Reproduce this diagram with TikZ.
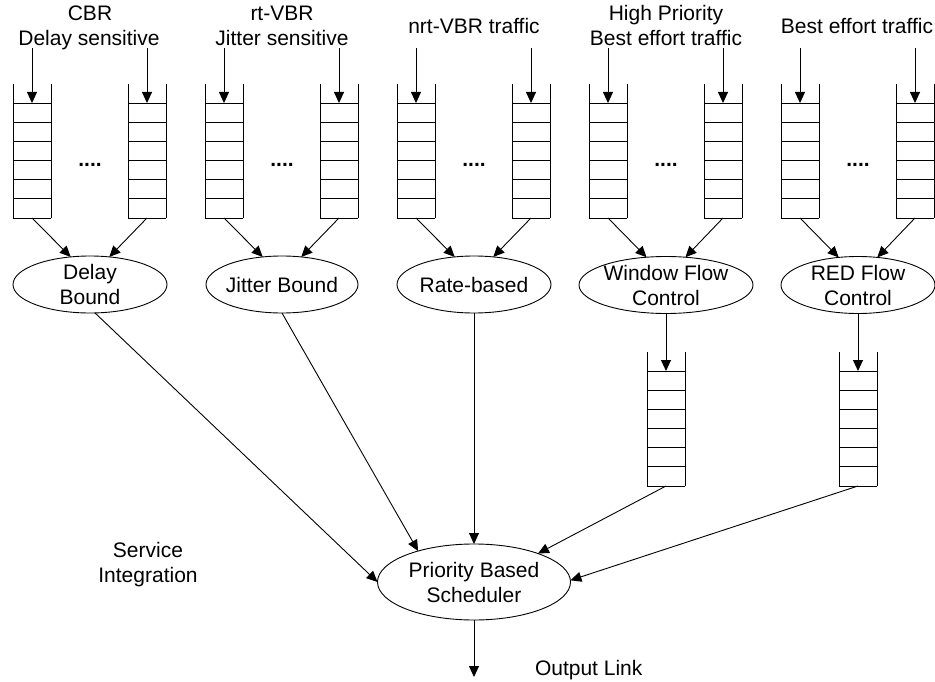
\documentclass[tikz,border=0pt]{standalone}
\usepackage{fontspec}
\setmainfont{Liberation Sans}
\usetikzlibrary{arrows.meta,shapes.geometric,calc}
\tikzset{
  line/.style={line width=0.9pt, draw=black},
  arr/.style={line, -{Triangle[length=11pt,width=10pt]}},
  ell/.style={draw, line width=0.9pt, ellipse, minimum height=57pt},
  lbl/.style={anchor=base},
  queue/.pic={
    \draw[line] (0,0) -- (0,134) (38,0) -- (38,134);
    \foreach \k in {0,...,6} \draw[line] (0,{19+\k*19.1667}) -- (38,{19+\k*19.1667});
    \coordinate (-in) at (19,19);
    \coordinate (-out) at (19,134);
    \coordinate (-src) at (19,-36);
  }
}
\begin{document}
\begin{tikzpicture}[x=1pt,y=-1pt,
  every node/.style={inner sep=0pt, outer sep=0pt, font=\fontsize{21}{25}\selectfont}]
\fill[white] (0,0) rectangle (935,682);
\useasboundingbox (0,0) rectangle (935,682);

% top queues, input arrows, dots
\foreach \g in {0,...,4}{
  \pic (qL\g) at ({13+192*\g},84) {queue};
  \pic (qR\g) at ({128+192*\g},84) {queue};
  \draw[arr] (qL\g-src) -- (qL\g-in);
  \draw[arr] (qR\g-src) -- (qR\g-in);
  \node[anchor=base, font=\bfseries\fontsize{21}{25}\selectfont] (d\g) at ({90+192*\g},167) {....};
}

% top labels
\node[lbl] (l0a) at (90,21) {CBR};
\node[lbl] (l0b) at (89,46) {Delay sensitive};
\node[lbl] (l1a) at (282,21) {rt-VBR};
\node[lbl] (l1b) at (282,46) {Jitter sensitive};
\node[lbl] (l2) at (474,34) {nrt-VBR traffic};
\node[lbl] (l3a) at (666,21) {High Priority};
\node[lbl] (l3b) at (666,46) {Best effort traffic};
\node[lbl] (l4) at (857,34) {Best effort traffic};

% ellipses
\node[ell, minimum width=154pt] (e0) at (90,284.5) {};
\node[ell, minimum width=152pt] (e1) at (282,284.5) {};
\node[ell, minimum width=154pt] (e2) at (474,284.5) {};
\node[ell, minimum width=174pt] (e3) at (666,285) {};
\node[ell, minimum width=154pt] (e4) at (858,285) {};
\node[align=center] (t0) at (e0) {Delay\\Bound};
\node (t1) at (e1) {Jitter Bound};
\node (t2) at (e2) {Rate-based};
\node[align=center] (t3) at (e3) {Window Flow\\Control};
\node[align=center] (t4) at (e4) {RED Flow\\Control};

\foreach \g in {0,...,4}{
  \draw[arr] (qL\g-out) -- (e\g.125);
  \draw[arr] (qR\g-out) -- (e\g.55);
}

% lower queues
\pic (qW) at (647,352) {queue};
\pic (qE) at (839,352) {queue};
\draw[arr] (e3.south) -- (qW-in);
\draw[arr] (e4.south) -- (qE-in);

% scheduler
\node[ell, minimum width=193pt, minimum height=76pt] (ps) at (474,582) {};
\node[align=center] (pst) at (ps) {Priority Based\\Scheduler};

\draw[arr] (e0.-80) -- (ps.west);
\draw[arr] (e1.south) -- (ps.151);
\draw[arr] (e2.south) -- (ps.north);
\draw[arr] (qW-out) -- (ps.24);
\draw[arr] (qE-out) -- (ps.1);

\coordinate (outend) at (474,677);
\draw[arr] (ps.south) -- (outend);

% side labels
\node[lbl] (s1) at (148,557) {Service};
\node[lbl] (s2) at (148,582) {Integration};
\node[anchor=base west] (ol) at (535,675) {Output Link};
\end{tikzpicture}
\end{document}
